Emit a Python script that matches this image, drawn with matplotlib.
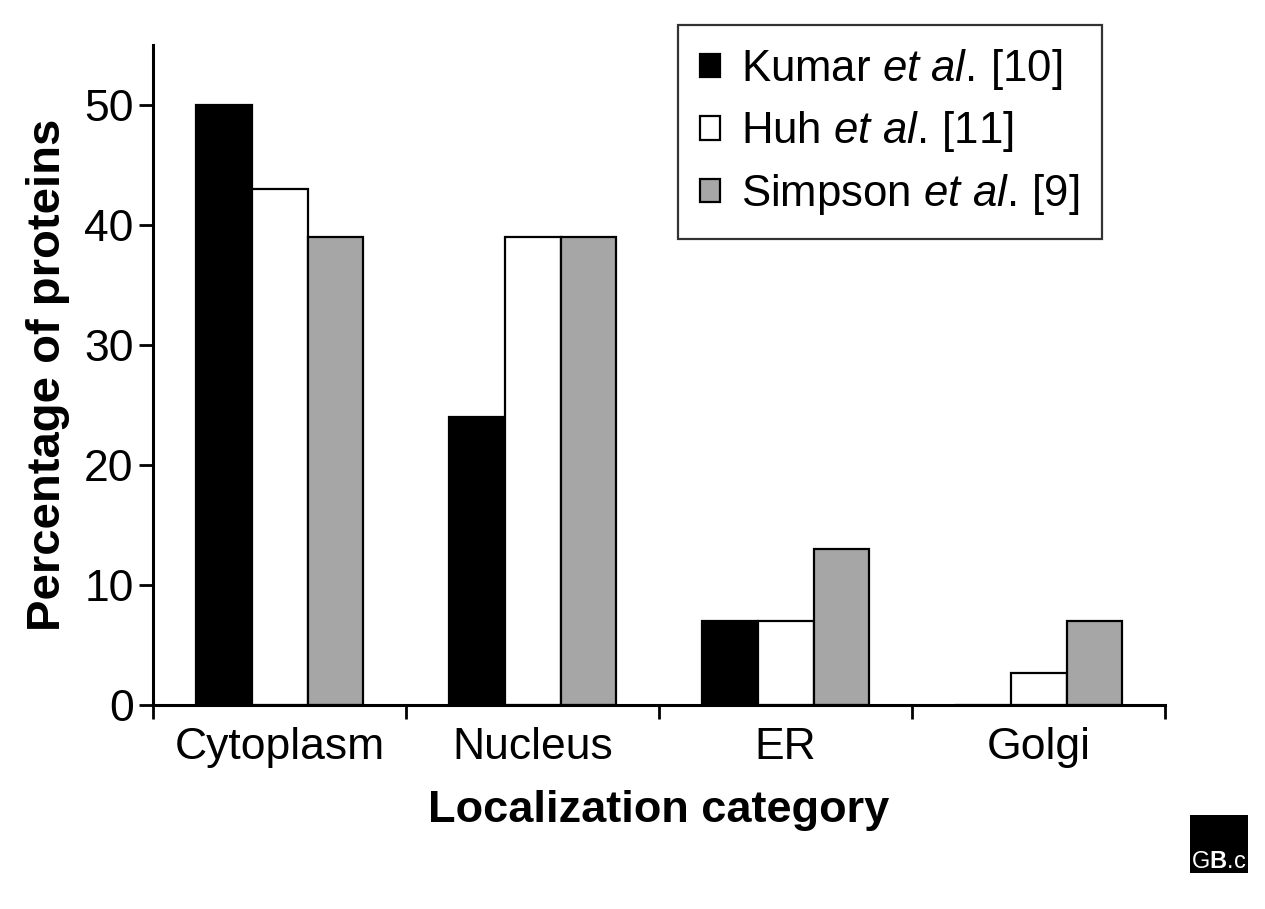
import numpy as np
import matplotlib.pyplot as plt
from matplotlib.patches import Rectangle

plt.rcParams['font.family'] = ['Liberation Sans', 'DejaVu Sans']
plt.rcParams['mathtext.fontset'] = 'custom'
plt.rcParams['mathtext.rm'] = 'Liberation Sans'
plt.rcParams['mathtext.it'] = 'Liberation Sans:italic'
plt.rcParams['mathtext.bf'] = 'Liberation Sans:bold'

categories = ['Cytoplasm', 'Nucleus', 'ER', 'Golgi']
kumar = [50, 24, 7, 0]
huh = [43, 39, 7, 2.7]
simpson = [39, 39, 13, 7]
series_labels = [r'Kumar $\mathit{et\ al.}\,$[10]',
                 r'Huh $\mathit{et\ al.}\,$[11]',
                 r'Simpson $\mathit{et\ al.}\,$[9]']
series_colors = ['black', 'white', '#a6a6a6']

fig = plt.figure(figsize=(12.65, 9.09), dpi=100)
ax = fig.add_axes([0.121, 0.2244, 0.800, 0.7261])

x = np.arange(len(categories))
w = 0.221
for k, (vals, lab, col) in enumerate(zip([kumar, huh, simpson], series_labels, series_colors)):
    ax.bar(x + (k - 1) * w, vals, width=w, color=col, edgecolor='black',
           linewidth=1.6, label=lab, zorder=2)

ax.set_xlim(-0.5, len(categories) - 0.5)
ax.set_ylim(0, 55)
ax.set_yticks(np.arange(0, 51, 10))
ax.set_xticks(np.arange(len(categories) + 1) - 0.5)
ax.set_xticklabels([])
ax.set_xticks(x, minor=True)
ax.set_xticklabels(categories, minor=True)
ax.tick_params(axis='x', which='minor', length=0, labelsize=32, pad=16)
ax.tick_params(axis='x', which='major', length=10, width=2, direction='out')
ax.tick_params(axis='y', length=10, width=2, direction='out', labelsize=32, pad=4)

for s in ['top', 'right']:
    ax.spines[s].set_visible(False)
for s in ['left', 'bottom']:
    ax.spines[s].set_linewidth(2.2)

ax.set_ylabel('Percentage of proteins', fontsize=34, fontweight='bold', labelpad=10)
ax.set_xlabel('Localization category', fontsize=32.5, fontweight='bold', labelpad=16)

leg = ax.legend(loc='upper left', bbox_to_anchor=(0.536, 0.9725),
                bbox_transform=fig.transFigure, fontsize=31.5, frameon=True,
                fancybox=False, edgecolor='black', handlelength=0.45,
                handleheight=0.45, handletextpad=0.5, labelspacing=0.4,
                borderpad=0.5, borderaxespad=0)
leg.get_frame().set_linewidth(1.6)

# GB logo in corner
fig.patches.append(Rectangle((0.9407, 0.0396), 0.0458, 0.0638,
                             transform=fig.transFigure, facecolor='black',
                             edgecolor='none'))
fig.text(0.9415, 0.040, r'G$\mathbf{B}$.c', color='white', fontsize=17,
         ha='left', va='bottom')

fig.savefig('out.png', dpi=100)
